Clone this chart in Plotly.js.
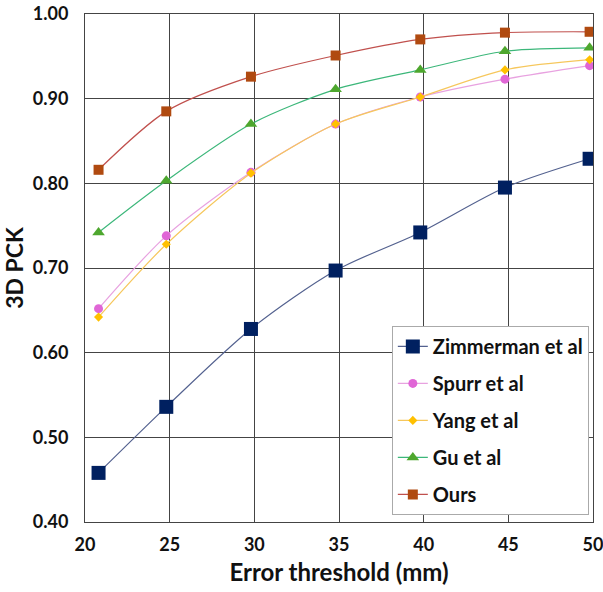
<!DOCTYPE html>
<html>
<head>
<meta charset="utf-8">
<script src="https://cdn.plot.ly/plotly-3.0.1.min.js"></script>
<style>html,body{margin:0;padding:0;background:#fff;}#chart{width:603px;height:592px;}</style>
</head>
<body>
<div id="chart"></div>
<script>
var thresholds = [20.8, 24.8, 29.8, 34.8, 39.8, 44.8, 49.8];
var seriesNames = ["Zimmerman et al", "Spurr et al", "Yang et al", "Gu et al", "Ours"];
var zimmerman = [0.458, 0.536, 0.628, 0.697, 0.742, 0.795, 0.829];
var spurr     = [0.652, 0.738, 0.813, 0.870, 0.902, 0.923, 0.939];
var yang      = [0.642, 0.728, 0.812, 0.870, 0.902, 0.934, 0.946];
var gu        = [0.742, 0.803, 0.870, 0.911, 0.934, 0.956, 0.960];
var ours      = [0.816, 0.885, 0.926, 0.951, 0.970, 0.978, 0.979];
var xTicks = [20, 25, 30, 35, 40, 45, 50];
var yTicks = [0.40, 0.50, 0.60, 0.70, 0.80, 0.90, 1.00];

var styles = [
  {line: "#53618f", marker: "#002060", symbol: "square", size: 14},
  {line: "#e8a2e0", marker: "#e066d6", symbol: "circle", size: 9},
  {line: "#f6c75c", marker: "#ffc000", symbol: "diamond", size: 7},
  {line: "#3cb77a", marker: "#4ea72e", symbol: "triangle-up", size: 11},
  {line: "#c0504d", marker: "#b04a10", symbol: "square", size: 10}
];
var allY = [zimmerman, spurr, yang, gu, ours];
var traces = allY.map(function(ys, i){
  var s = styles[i];
  return {
    x: thresholds, y: ys, name: seriesNames[i], legendgroup: "g"+i,
    type: "scatter", mode: "lines+markers",
    line: {color: s.line, width: 1.2, shape: "spline", smoothing: 0.8},
    marker: {color: s.marker, symbol: s.symbol, size: s.size}
  };
});

var fontFam = "Lato, 'Open Sans', sans-serif";
var layout = {
  width: 603, height: 592,
  margin: {l: 85, r: 10, t: 14, b: 70},
  paper_bgcolor: "#fff", plot_bgcolor: "#fff",
  font: {family: fontFam, color: "#111"},
  xaxis: {
    range: [20, 50], tickvals: xTicks, ticktext: xTicks.map(String),
    showgrid: true, gridcolor: "#444", gridwidth: 1,
    showline: true, linecolor: "#444", linewidth: 1, mirror: true,
    zeroline: false, ticks: "", ticklen: 0, ticklabelstandoff: 6,
    ticklabeloverflow: "allow",
    tickfont: {size: 18, family: fontFam, weight: "bold", color: "#111"},
    title: {text: "<b>Error threshold (mm)</b>", font: {size: 24, family: fontFam, color: "#111"}, standoff: 10}
  },
  yaxis: {
    range: [0.40, 1.00], tickvals: yTicks, ticktext: yTicks.map(function(v){return v.toFixed(2);}),
    showgrid: true, gridcolor: "#444", gridwidth: 1,
    showline: true, linecolor: "#444", linewidth: 1, mirror: true,
    zeroline: false, ticks: "", ticklen: 0, ticklabelstandoff: 12,
    ticklabeloverflow: "allow",
    tickfont: {size: 18, family: fontFam, weight: "bold", color: "#111"},
    title: {text: "<b>3D PCK</b>", font: {size: 23, family: fontFam, color: "#111"}, standoff: 4}
  },
  legend: {
    x: 0.604, y: 0.386, xanchor: "left", yanchor: "top",
    bgcolor: "#fff", bordercolor: "#aaa", borderwidth: 1,
    font: {size: 20, family: fontFam, weight: "bold", color: "#111"},
    tracegroupgap: 8, itemwidth: 30
  },
  showlegend: true
};
Plotly.newPlot("chart", traces, layout, {displayModeBar: false, staticPlot: true});
</script>
</body>
</html>
